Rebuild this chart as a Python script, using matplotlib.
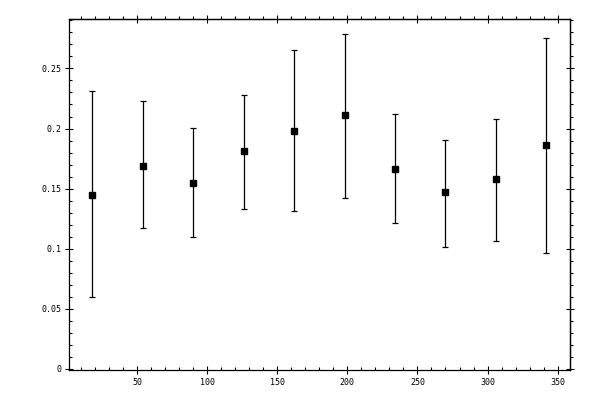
import numpy as np
import matplotlib as mpl
mpl.use('Agg')
import matplotlib.pyplot as plt
from matplotlib.ticker import MultipleLocator, FuncFormatter

# 数据
x_pos = [18, 54, 90, 126, 162, 198, 234, 270, 306, 342]
y_val = [0.145, 0.169, 0.155, 0.181, 0.198, 0.211, 0.166, 0.147, 0.158, 0.186]
y_upper = [0.231, 0.2225, 0.2005, 0.2283, 0.265, 0.279, 0.2117, 0.1908, 0.2083, 0.275]
y_lower = [0.060, 0.117, 0.1094, 0.1327, 0.1317, 0.1425, 0.1211, 0.1017, 0.1067, 0.0967]

y_arr = np.array(y_val)
err = [y_arr - np.array(y_lower), np.array(y_upper) - y_arr]

mpl.rcParams['font.family'] = ['DejaVu Sans Mono']
mpl.rcParams['font.size'] = 6

fig = plt.figure(figsize=(6, 4), dpi=100, facecolor='white')
ax = fig.add_axes([0.1155, 0.075, 0.8345, 0.877])

ax.errorbar(x_pos, y_val, yerr=err, fmt='s', color='black', ecolor='black',
            markersize=5, elinewidth=0.9, capsize=2, capthick=0.9)

ax.set_xlim(1.7, 358.8)
ax.set_ylim(-0.001, 0.291)

for s in ax.spines.values():
    s.set_linewidth(0.9)

ax.xaxis.set_major_locator(MultipleLocator(50))
ax.xaxis.set_minor_locator(MultipleLocator(10))
ax.yaxis.set_major_locator(MultipleLocator(0.05))
ax.yaxis.set_minor_locator(MultipleLocator(0.01))
fmt = FuncFormatter(lambda v, p: '%g' % round(v, 4))
ax.xaxis.set_major_formatter(fmt)
ax.yaxis.set_major_formatter(fmt)

ax.tick_params(which='major', direction='inout', length=5.8, width=0.8, pad=3,
               labelsize=6, colors='black')
ax.tick_params(which='minor', direction='in', length=2.2, width=0.8)

# 上边和右边的刻度（次刻度朝外）
top = ax.secondary_xaxis('top')
top.xaxis.set_major_locator(MultipleLocator(50))
top.xaxis.set_minor_locator(MultipleLocator(10))
top.tick_params(which='major', direction='inout', length=5.8, width=0.8, labeltop=False)
top.tick_params(which='minor', direction='out', length=2.2, width=0.8)
top.spines['top'].set_linewidth(0.9)

right = ax.secondary_yaxis('right')
right.yaxis.set_major_locator(MultipleLocator(0.05))
right.yaxis.set_minor_locator(MultipleLocator(0.01))
right.tick_params(which='major', direction='inout', length=5.8, width=0.8, labelright=False)
right.tick_params(which='minor', direction='out', length=2.2, width=0.8)
right.spines['right'].set_linewidth(0.9)

plt.savefig('out.png', dpi=100)
